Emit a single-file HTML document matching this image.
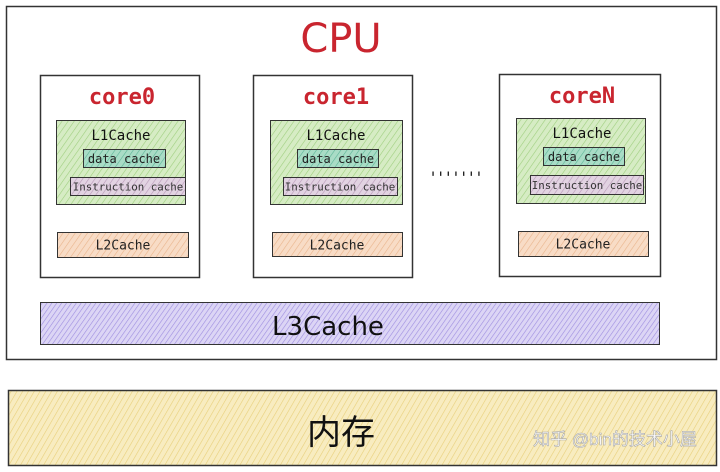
<!DOCTYPE html>
<html><head><meta charset="utf-8"><style>
html,body{margin:0;padding:0;background:#fff;}
svg{display:block}
text{font-family:"DejaVu Sans Mono","Liberation Mono",monospace;}
</style></head><body>
<svg width="720" height="472" viewBox="0 0 720 472" xmlns="http://www.w3.org/2000/svg">
<defs>
<pattern id="pg" width="5" height="5" patternUnits="userSpaceOnUse" patternTransform="rotate(35)"><rect width="5" height="5" fill="#d6ecc4"/><line x1="0" y1="0" x2="0" y2="5" stroke="#9fcf7f" stroke-width="1.2"/></pattern>
<pattern id="pt" width="5" height="5" patternUnits="userSpaceOnUse" patternTransform="rotate(35)"><rect width="5" height="5" fill="#a9dcc6"/><line x1="0" y1="0" x2="0" y2="5" stroke="#5cb596" stroke-width="1.2"/></pattern>
<pattern id="pp" width="5" height="5" patternUnits="userSpaceOnUse" patternTransform="rotate(35)"><rect width="5" height="5" fill="#e2d3e2"/><line x1="0" y1="0" x2="0" y2="5" stroke="#b89ab8" stroke-width="1.2"/></pattern>
<pattern id="po" width="5" height="5" patternUnits="userSpaceOnUse" patternTransform="rotate(35)"><rect width="5" height="5" fill="#f8dcc6"/><line x1="0" y1="0" x2="0" y2="5" stroke="#e9b48c" stroke-width="1.2"/></pattern>
<pattern id="pv" width="4" height="4" patternUnits="userSpaceOnUse" patternTransform="rotate(35)"><rect width="4" height="4" fill="#dcd5f5"/><line x1="0" y1="0" x2="0" y2="4" stroke="#9d8de0" stroke-width="1.2"/></pattern>
<pattern id="py" width="5" height="5" patternUnits="userSpaceOnUse" patternTransform="rotate(30)"><rect width="5" height="5" fill="#f8ecc0"/><line x1="0" y1="0" x2="0" y2="5" stroke="#e8cf7a" stroke-width="1.2"/></pattern>
</defs>
<rect x="6.5" y="6.5" width="710" height="353" fill="#fff" stroke="#333" stroke-width="1.5"/>
<text x="341" y="52" font-size="40" fill="#c9252f" text-anchor="middle" style="font-family:'DejaVu Sans',sans-serif">CPU</text>

<g>
<rect x="40.5" y="75.5" width="159" height="202" fill="#fff" stroke="#333" stroke-width="1.5"/>
<text x="122" y="104" font-size="22" fill="#c9252f" text-anchor="middle" font-weight="bold">core0</text>
<rect x="56.5" y="120.5" width="129" height="84" fill="url(#pg)" stroke="#333"/>
<text x="121" y="140" font-size="14" fill="#111" text-anchor="middle">L1Cache</text>
<rect x="83.5" y="149.5" width="82" height="18" fill="url(#pt)" stroke="#333"/>
<text x="124" y="163" font-size="12" fill="#222" text-anchor="middle">data cache</text>
<rect x="70.5" y="177.5" width="115" height="18" fill="url(#pp)" stroke="#333"/>
<text x="128" y="190.5" font-size="10.8" fill="#333" text-anchor="middle">Instruction cache</text>
<rect x="57.5" y="232.5" width="131" height="25" fill="url(#po)" stroke="#333"/>
<text x="123" y="249.5" font-size="13" fill="#222" text-anchor="middle">L2Cache</text>
</g>

<g>
<rect x="253.5" y="75.5" width="159" height="202" fill="#fff" stroke="#333" stroke-width="1.5"/>
<text x="336" y="104" font-size="22" fill="#c9252f" text-anchor="middle" font-weight="bold">core1</text>
<rect x="270.5" y="120.5" width="132" height="84" fill="url(#pg)" stroke="#333"/>
<text x="336" y="140" font-size="14" fill="#111" text-anchor="middle">L1Cache</text>
<rect x="297.5" y="149.5" width="81" height="18" fill="url(#pt)" stroke="#333"/>
<text x="338" y="163" font-size="12" fill="#222" text-anchor="middle">data cache</text>
<rect x="283.5" y="177.5" width="114" height="18" fill="url(#pp)" stroke="#333"/>
<text x="340" y="190.5" font-size="10.8" fill="#333" text-anchor="middle">Instruction cache</text>
<rect x="272.5" y="232.5" width="130" height="24" fill="url(#po)" stroke="#333"/>
<text x="337" y="249.5" font-size="13" fill="#222" text-anchor="middle">L2Cache</text>
</g>

<text x="455" y="183" font-size="16" fill="#222" text-anchor="middle" letter-spacing="-2">'''''''</text>

<g>
<rect x="499.5" y="74.5" width="161" height="202" fill="#fff" stroke="#333" stroke-width="1.5"/>
<text x="582" y="103" font-size="22" fill="#c9252f" text-anchor="middle" font-weight="bold">coreN</text>
<rect x="516.5" y="118.5" width="129" height="85" fill="url(#pg)" stroke="#333"/>
<text x="582" y="138" font-size="14" fill="#111" text-anchor="middle">L1Cache</text>
<rect x="543.5" y="147.5" width="81" height="18" fill="url(#pt)" stroke="#333"/>
<text x="584" y="161" font-size="12" fill="#222" text-anchor="middle">data cache</text>
<rect x="530.5" y="175.5" width="113" height="19" fill="url(#pp)" stroke="#333"/>
<text x="587" y="189" font-size="10.8" fill="#333" text-anchor="middle">Instruction cache</text>
<rect x="518.5" y="231.5" width="130" height="25" fill="url(#po)" stroke="#333"/>
<text x="583" y="248.5" font-size="13" fill="#222" text-anchor="middle">L2Cache</text>
</g>

<rect x="40.5" y="302.5" width="619" height="42" fill="url(#pv)" stroke="#333"/>
<text x="328" y="335" font-size="26" fill="#111" text-anchor="middle" style="font-family:'DejaVu Sans',sans-serif">L3Cache</text>

<rect x="8.5" y="390.5" width="708" height="75" fill="url(#py)" stroke="#333" stroke-width="1.5"/>
<text x="341" y="444" font-size="34" fill="#111" text-anchor="middle" style="font-family:'Noto Sans CJK SC',sans-serif">内存</text>
<text x="615" y="445" font-size="17" fill="#fff" stroke="#aaa" stroke-width="0.6" text-anchor="middle" style="font-family:'Liberation Sans','Noto Sans CJK SC',sans-serif">知乎 @bin的技术小屋</text>
</svg>
</body></html>
